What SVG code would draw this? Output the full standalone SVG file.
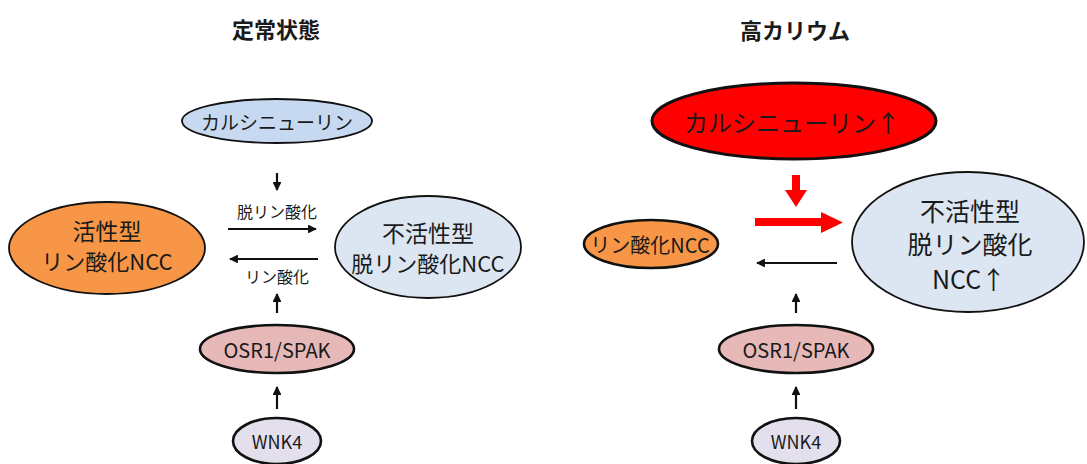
<svg xmlns="http://www.w3.org/2000/svg" width="1087" height="464" viewBox="0 0 1087 464">
<defs>
<marker id="ah" viewBox="0 0 10 10" refX="9" refY="5" markerWidth="4" markerHeight="4" orient="auto" markerUnits="strokeWidth">
<path d="M0,0 L10,5 L0,10 Z" fill="#111"/>
</marker>
</defs>
<style>
text{font-family:"Noto Sans CJK JP","Noto Sans",sans-serif;fill:#1a1a1a;text-anchor:middle;dominant-baseline:central}
.title{font-size:22px;font-weight:bold}
.ln{stroke:#111;stroke-width:2.2;fill:none;marker-end:url(#ah)}
.e{stroke:#111;stroke-width:1.8}
.e2{stroke:#111;stroke-width:2.6}
</style>
<rect width="1087" height="464" fill="#fff"/>
<text class="title" x="276" y="28">定常状態</text>
<text class="title" x="795" y="29">高カリウム</text>

<g id="connectors">
<line class="ln" x1="277" y1="173" x2="277" y2="190"/>
<line class="ln" x1="228" y1="229" x2="316" y2="229"/>
<line class="ln" x1="318" y1="259" x2="230" y2="259"/>
<line class="ln" x1="277" y1="313" x2="277" y2="294"/>
<line class="ln" x1="277" y1="409" x2="277" y2="387"/>
<text x="277" y="211" style="font-size:16px">脱リン酸化</text>
<text x="277" y="276" style="font-size:16px">リン酸化</text>
<polygon points="792,175 800,175 800,190 807,190 796,207 785,190 792,190" fill="#ff0000"/>
<polygon points="755,218 821,218 821,212 843,222.5 821,233 821,226 755,226" fill="#ff0000"/>
<line class="ln" x1="837" y1="263" x2="757" y2="263"/>
<line class="ln" x1="796" y1="313" x2="796" y2="294"/>
<line class="ln" x1="796" y1="409" x2="796" y2="387"/>
</g>

<g id="calcineurin-l">
<ellipse class="e" cx="277" cy="121" rx="95" ry="22" fill="#c6d9f1"/>
<text x="277" y="121" style="font-size:19px">カルシニューリン</text>
</g>
<g id="active-ncc">
<ellipse class="e" cx="107" cy="248" rx="98" ry="46" fill="#f79646"/>
<text x="107" y="230" style="font-size:23px">活性型</text>
<text x="107" y="260" style="font-size:22px">リン酸化NCC</text>
</g>
<g id="inactive-ncc-l">
<ellipse class="e" cx="428" cy="247" rx="93" ry="51" fill="#dce6f2"/>
<text x="428" y="232" style="font-size:23px">不活性型</text>
<text x="428" y="262" style="font-size:22px">脱リン酸化NCC</text>
</g>
<g id="osr1-l">
<ellipse class="e2" cx="277" cy="349" rx="77" ry="24" fill="#e6b9b8"/>
<text x="277" y="349" style="font-size:20px">OSR1/SPAK</text>
</g>
<g id="wnk4-l">
<ellipse class="e2" cx="277" cy="441" rx="44" ry="23" fill="#e4dfec"/>
<text x="277" y="441" style="font-size:18px">WNK4</text>
</g>

<g id="calcineurin-r">
<ellipse cx="794" cy="121" rx="142" ry="38" fill="#ff0000" stroke="#111" stroke-width="3"/>
<text x="792" y="121" style="font-size:24px">カルシニューリン↑</text>
</g>
<g id="p-ncc-r">
<ellipse class="e2" cx="651" cy="244" rx="67" ry="24" fill="#f79646"/>
<text x="650" y="244" style="font-size:20px">リン酸化NCC</text>
</g>
<g id="inactive-ncc-r">
<ellipse class="e" cx="968" cy="242" rx="116" ry="70" fill="#dce6f2"/>
<text x="970" y="210" style="font-size:25px">不活性型</text>
<text x="970" y="243" style="font-size:25px">脱リン酸化</text>
<text x="969" y="278" style="font-size:25px">NCC↑</text>
</g>
<g id="osr1-r">
<ellipse class="e2" cx="796" cy="349" rx="77" ry="24" fill="#e6b9b8"/>
<text x="796" y="349" style="font-size:20px">OSR1/SPAK</text>
</g>
<g id="wnk4-r">
<ellipse class="e2" cx="796" cy="441" rx="44" ry="23" fill="#e4dfec"/>
<text x="796" y="441" style="font-size:18px">WNK4</text>
</g>
</svg>
